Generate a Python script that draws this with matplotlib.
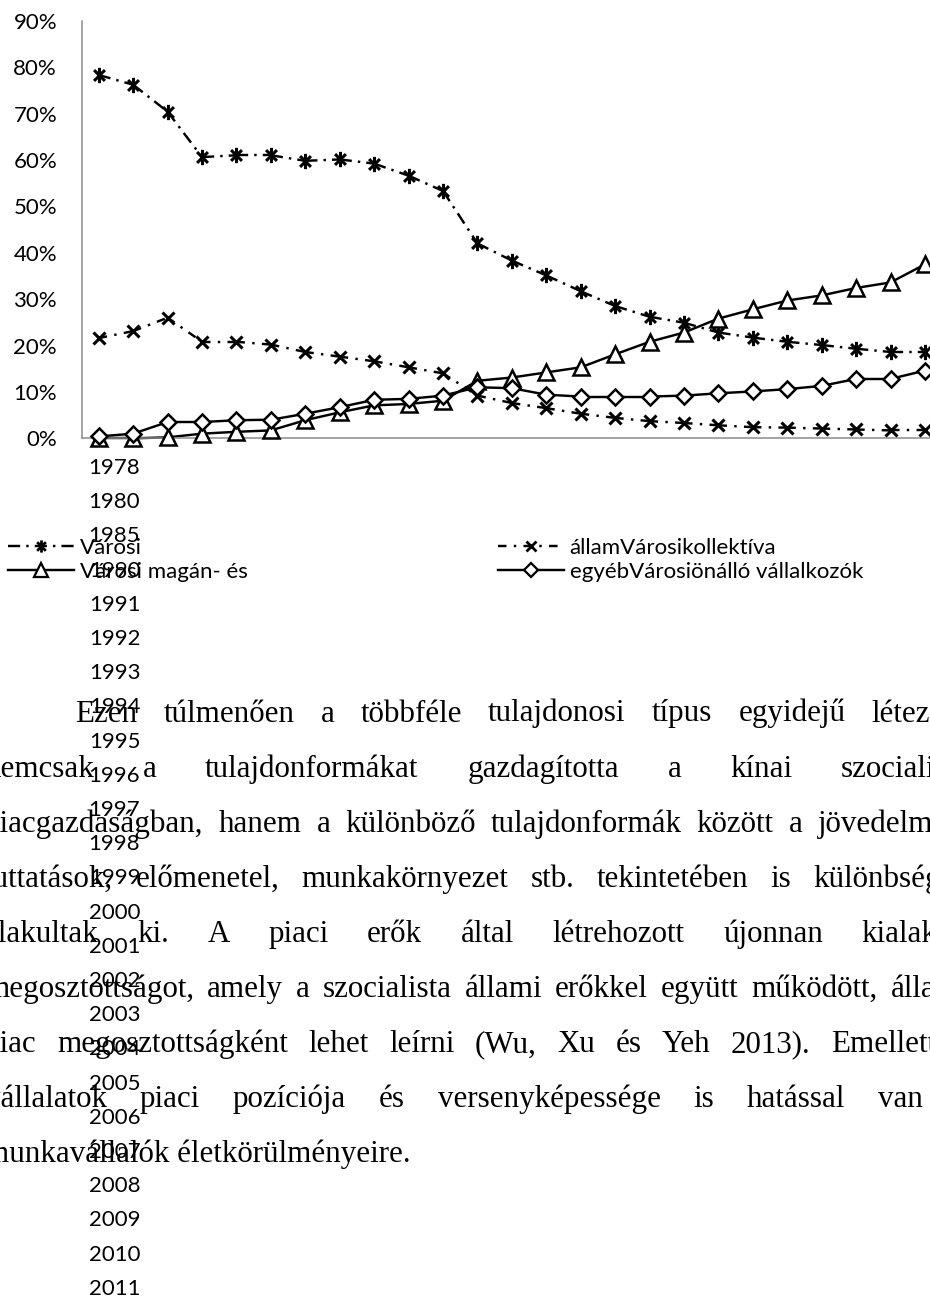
import numpy as np
import matplotlib
matplotlib.use('Agg')
import matplotlib.pyplot as plt
from matplotlib.path import Path
from matplotlib.lines import Line2D
from matplotlib.transforms import IdentityTransform
from matplotlib.font_manager import FontProperties

# category labels (they end up stacked in one column under the chart)
years = ['1978', '1980', '1985', '1990', '1991', '1992', '1993', '1994', '1995',
         '1996', '1997', '1998', '1999', '2000', '2001', '2002', '2003', '2004',
         '2005', '2006', '2007', '2008', '2009', '2010', '2011']

# shares in percent
state = [78.3, 76.2, 70.4, 60.6, 61.0, 61.0, 59.8, 60.1, 59.2, 56.6, 53.3, 42.0, 38.3,
         35.1, 31.7, 28.5, 26.2, 24.9, 22.8, 21.7, 20.8, 20.1, 19.3, 18.6, 18.6]
collective = [21.6, 23.1, 26.0, 20.8, 20.8, 20.2, 18.6, 17.6, 16.6, 15.3, 14.0, 9.2, 7.6,
              6.5, 5.3, 4.4, 3.7, 3.3, 2.8, 2.4, 2.3, 2.1, 1.9, 1.7, 1.7]
private = [0.0, 0.0, 0.2, 1.0, 1.4, 1.7, 3.9, 5.6, 7.1, 7.4, 8.1, 12.4, 13.1,
           14.2, 15.3, 18.1, 20.8, 22.8, 25.8, 27.8, 29.7, 30.8, 32.4, 33.6, 37.5]
other = [0.4, 1.0, 3.5, 3.5, 3.9, 4.0, 5.3, 6.7, 8.3, 8.5, 9.2, 11.0, 10.8,
         9.4, 9.0, 9.0, 9.0, 9.2, 9.7, 10.1, 10.6, 11.3, 12.8, 12.8, 14.6]

names = ['Városi', 'államVárosikollektíva', 'Városi magán- és',
         'egyébVárosiönálló vállalkozók']
yticks = [0, 10, 20, 30, 40, 50, 60, 70, 80, 90]

# the body text that runs over the chart labels
text_lines = [
    "Ezen túlmenően a többféle tulajdonosi típus egyidejű létezése",
    "nemcsak a tulajdonformákat gazdagította a kínai szocialista",
    "piacgazdaságban, hanem a különböző tulajdonformák között a jövedelmek,",
    "juttatások, előmenetel, munkakörnyezet stb. tekintetében is különbségek",
    "alakultak ki. A piaci erők által létrehozott újonnan kialakult",
    "megosztottságot, amely a szocialista állami erőkkel együtt működött, állam-",
    "piac megosztottságként lehet leírni (Wu, Xu és Yeh 2013). Emellett a",
    "vállalatok piaci pozíciója és versenyképessége is hatással van a",
    "munkavállalók életkörülményeire.",
]

W, H = 930, 1299
fig = plt.figure(figsize=(W / 100, H / 100), dpi=100)

chart_font = FontProperties(family=['Lato', 'DejaVu Sans'], size=16)
body_font = FontProperties(family=['Liberation Serif', 'DejaVu Serif'], size=22.3)

#axes: left spine at x=81.5, 0% at y=438.3, 90% at y=20.7, categories 34.43 px wide
ax = fig.add_axes([81.5 / W, 1 - 438.3 / H, 25 * 34.43 / W, 417.6 / H])
ax.set_xlim(-0.5, len(years) - 0.5)
ax.set_ylim(0, 90)
ax.set_yticks(yticks)
ax.set_yticklabels([f'{v}%' for v in yticks], fontproperties=chart_font)
ax.set_xticks([])
ax.tick_params(axis='y', length=0, pad=17.6, colors='black')
for s in ['top', 'right']:
    ax.spines[s].set_visible(False)
for s in ['left', 'bottom']:
    ax.spines[s].set_color('#8c8c8c')
    ax.spines[s].set_linewidth(1.1)

# excel style "star" marker: x with a vertical bar
star = Path([(0, -1), (0, 1), (-0.71, -0.71), (0.71, 0.71), (-0.71, 0.71), (0.71, -0.71)],
            [Path.MOVETO, Path.LINETO] * 3)

long_dash_dot = (0, (5, 2.5, 1, 2.5))
dash_dot = (0, (3.5, 3, 1, 3))

styles = [
    (state, long_dash_dot, star, 11, 'none', 2.2),
    (collective, dash_dot, 'x', 8.5, 'none', 2.2),
    (private, '-', '^', 12, 'white', 1.8),
    (other, '-', 'D', 8.5, 'white', 1.8),
]

x = np.arange(len(years))
handles = []
for vals, ls, mk, ms, fc, mew in styles:
    # excel restarts the dash pattern on every segment
    for i in range(len(vals) - 1):
        ax.plot(x[i:i + 2], vals[i:i + 2], color='black', lw=1.75, linestyle=ls,
                dash_capstyle='butt', clip_on=False)
    ax.plot(x, vals, linestyle='none', marker=mk, ms=ms, mfc=fc, mec='black',
            mew=mew, clip_on=False, zorder=3)
    handles.append(Line2D([], [], color='black', lw=1.75, linestyle=ls, marker=mk,
                          ms=ms * 0.8, mfc=fc, mec='black', mew=mew * 0.9))

leg_kw = dict(loc='center left', frameon=False, borderpad=0, borderaxespad=0,
              handlelength=2.95, handletextpad=0.27, labelspacing=0.2,
              numpoints=1, prop=chart_font)
fig.legend([handles[0], handles[2]], [names[0], names[2]],
           bbox_to_anchor=(8 / W, 1 - 560 / H), **leg_kw)
fig.legend([handles[1], handles[3]], [names[1], names[3]],
           bbox_to_anchor=(498 / W, 1 - 560 / H), **leg_kw)

# stacked year labels
for k, yr in enumerate(years):
    fig.text(114.5 / W, 1 - (468 + 34.2 * k) / H, yr, ha='center', va='center',
             fontproperties=chart_font)

# justified paragraph, left margin -15 px, right margin 970 px
renderer = fig.canvas.get_renderer()
left, right = -15.0, 970.0
for k, line in enumerate(text_lines):
    ybase = H - (721.5 + 55.1 * k)
    start = left + (90 if k == 0 else 0)
    if k == len(text_lines) - 1:
        fig.text(start, ybase, line, transform=IdentityTransform(), va='baseline',
                 fontproperties=body_font)
        continue
    words = line.split(' ')
    objs = [fig.text(0, ybase, w, transform=IdentityTransform(), va='baseline',
                     fontproperties=body_font) for w in words]
    widths = [t.get_window_extent(renderer).width for t in objs]
    gap = (right - start - sum(widths)) / (len(words) - 1)
    pos = start
    for t, w in zip(objs, widths):
        t.set_x(pos)
        pos += w + gap

fig.savefig('out.png', dpi=100)
